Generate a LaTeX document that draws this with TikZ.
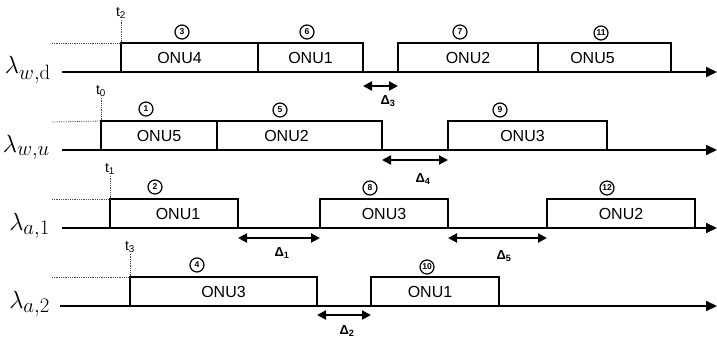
\documentclass[tikz,border=0pt]{standalone}
\usepackage{fontspec}
\setsansfont{Liberation Sans}
\usetikzlibrary{arrows.meta}

\tikzset{
  axis/.style={line width=2pt, -{Triangle[length=11pt,width=10pt]}},
  slot/.style={draw, line width=1.5pt, rectangle, outer sep=0pt, inner sep=0pt,
               minimum height=29pt, anchor=south west},
  onutext/.style={font=\sffamily\fontsize{16}{18}\selectfont},
  seqnum/.style={draw, circle, line width=1.2pt, minimum size=14pt, inner sep=0pt,
                 font=\sffamily\bfseries\fontsize{8.5}{9}\selectfont},
  guide/.style={densely dotted, line width=0.8pt, black!70},
  gap/.style={line width=2pt,
              {Triangle[length=9pt,width=9pt]}-{Triangle[length=9pt,width=9pt]}},
  gaplabel/.style={font=\sffamily\bfseries\fontsize{13}{14}\selectfont},
  tlabel/.style={font=\sffamily\fontsize{14}{15}\selectfont, inner sep=1pt},
  chan/.style={anchor=base east, inner sep=0pt, font=\Huge},
}

\begin{document}
\begin{tikzpicture}[x=1pt, y=-1pt]
\useasboundingbox (0,0) rectangle (717,345);

% ---------- channel labels ----------
\node[chan] (c1) at (51,74)  {$\lambda_{w,\mathrm{d}}$};
\node[chan] (c2) at (50,152) {$\lambda_{w,u}$};
\node[chan] (c3) at (50,230) {$\lambda_{a,1}$};
\node[chan] (c4) at (50,308) {$\lambda_{a,2}$};

% ---------- time slots ----------
% lambda_{w,d}
\node[slot, minimum width=137pt, label={[onutext,xshift=-10pt]center:ONU4}] (s3)  at (121,72) {};
\node[slot, minimum width=105pt, label={[onutext]center:ONU1}]              (s6)  at (258,72) {};
\node[slot, minimum width=140pt, label={[onutext]center:ONU2}]              (s7)  at (398,72) {};
\node[slot, minimum width=133pt, label={[onutext,xshift=-12pt]center:ONU5}] (s11) at (538,72) {};
% lambda_{w,u}
\node[slot, minimum width=116pt, label={[onutext]center:ONU5}]              (s1)  at (101,150) {};
\node[slot, minimum width=165pt, label={[onutext,xshift=-13pt]center:ONU2}] (s5)  at (217,150) {};
\node[slot, minimum width=159pt, label={[onutext,xshift=-5pt]center:ONU3}]  (s9)  at (448,150) {};
% lambda_{a,1}
\node[slot, minimum width=128pt, label={[onutext,xshift=4pt]center:ONU1}]   (s2)  at (110,228) {};
\node[slot, minimum width=128pt, label={[onutext]center:ONU3}]              (s8)  at (320,228) {};
\node[slot, minimum width=148pt, label={[onutext]center:ONU2}]              (s12) at (547,228) {};
% lambda_{a,2}
\node[slot, minimum width=187pt, label={[onutext]center:ONU3}]              (s4)  at (130,306) {};
\node[slot, minimum width=128pt, label={[onutext,xshift=-5pt]center:ONU1}]  (s10) at (371,306) {};

% ---------- time axes ----------
\coordinate (a1s) at (62,72);  \coordinate (a1e) at (717,72);
\coordinate (a2s) at (62,150); \coordinate (a2e) at (717,150);
\coordinate (a3s) at (62,228); \coordinate (a3e) at (717,228);
\coordinate (a4s) at (60,306); \coordinate (a4e) at (717,306);
\draw[axis] (a1s) -- (a1e);
\draw[axis] (a2s) -- (a2e);
\draw[axis] (a3s) -- (a3e);
\draw[axis] (a4s) -- (a4e);

% ---------- start times ----------
\node[tlabel] (t2) at (121,13)  {t\textsubscript{2}};
\node[tlabel] (t0) at (101,91)  {t\textsubscript{0}};
\node[tlabel] (t1) at (110,169) {t\textsubscript{1}};
\node[tlabel] (t3) at (130,247) {t\textsubscript{3}};
\coordinate (g1) at (52,43);
\coordinate (g2) at (52,122);
\coordinate (g3) at (52,199);
\coordinate (g4) at (52,277);
\draw[guide] (t2.south) -- (s3.north west);
\draw[guide] (t0.south) -- (s1.north west);
\draw[guide] (t1.south) -- (s2.north west);
\draw[guide] (t3.south) -- (s4.north west);
\draw[guide] (g1) -- (s3.north west);
\draw[guide] (g2) -- (s1.north west);
\draw[guide] (g3) -- (s2.north west);
\draw[guide] (g4) -- (s4.north west);

% ---------- order of grants ----------
\node[seqnum] (n3)  at (182,32)  {3};
\node[seqnum] (n6)  at (307,32)  {6};
\node[seqnum] (n7)  at (460,32)  {7};
\node[seqnum] (n11) at (601,33)  {11};
\node[seqnum] (n1)  at (146,109) {1};
\node[seqnum] (n5)  at (280,110) {5};
\node[seqnum] (n9)  at (500,110) {9};
\node[seqnum] (n2)  at (155,187) {2};
\node[seqnum] (n8)  at (370,188) {8};
\node[seqnum] (n12) at (607,188) {12};
\node[seqnum] (n4)  at (197,265) {4};
\node[seqnum] (n10) at (427,267) {10};

% ---------- idle gaps ----------
\draw[gap] ([yshift=-14pt]s6.south east) -- ([yshift=-14pt]s7.south west);
\draw[gap] ([yshift=-10pt]s5.south east) -- ([yshift=-10pt]s9.south west);
\draw[gap] ([yshift=-10pt]s2.south east) -- ([yshift=-10pt]s8.south west);
\draw[gap] ([yshift=-10pt]s8.south east) -- ([yshift=-10pt]s12.south west);
\draw[gap] ([yshift=-9pt]s4.south east)  -- ([yshift=-9pt]s10.south west);
\node[gaplabel] (d3) at (388,101) {Δ\textsubscript{3}};
\node[gaplabel] (d4) at (423,179) {Δ\textsubscript{4}};
\node[gaplabel] (d1) at (282,253) {Δ\textsubscript{1}};
\node[gaplabel] (d5) at (504,256) {Δ\textsubscript{5}};
\node[gaplabel] (d2) at (347,331) {Δ\textsubscript{2}};
\end{tikzpicture}
\end{document}
